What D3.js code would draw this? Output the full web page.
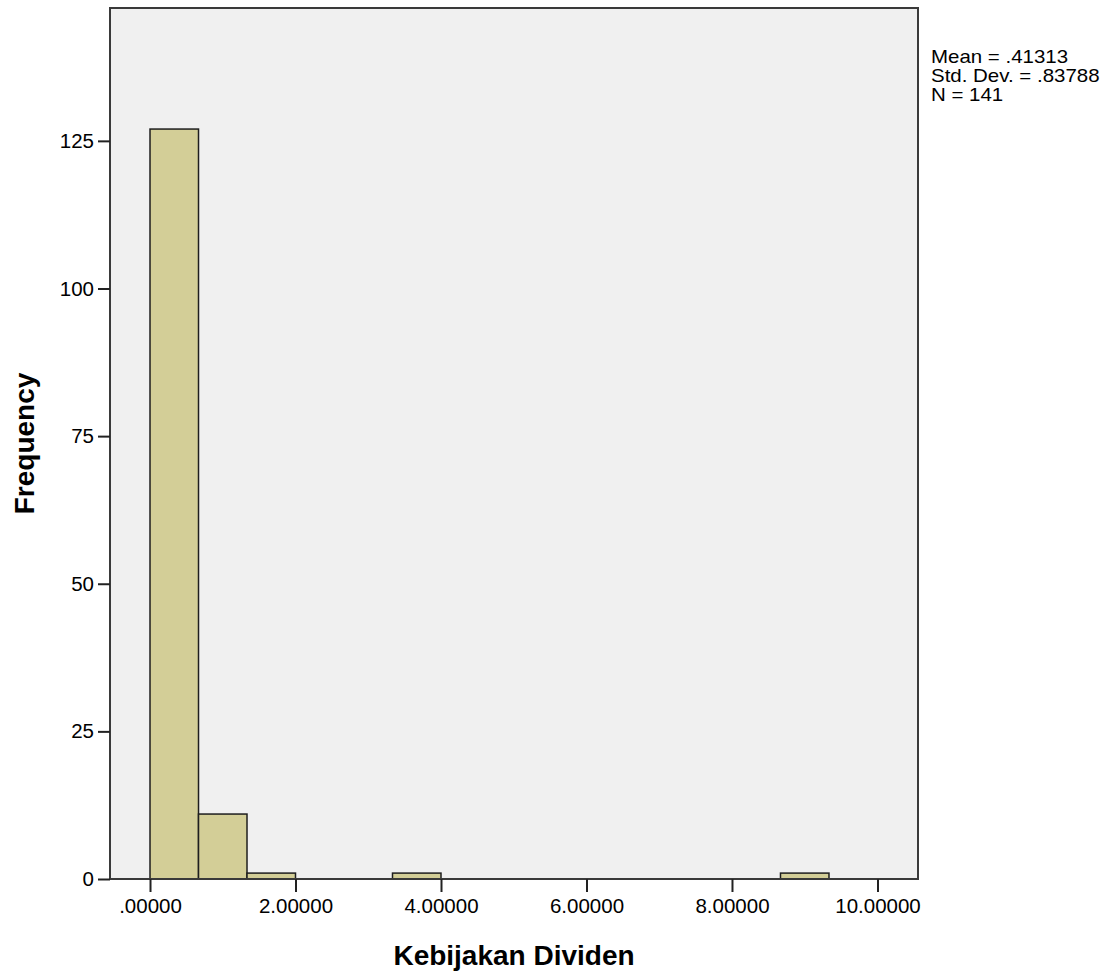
<!DOCTYPE html>
<html>
<head>
<meta charset="utf-8">
<script src="https://cdn.jsdelivr.net/npm/d3@7"></script>
<style>
  body { margin: 0; background: #fff; }
  text { font-family: "Liberation Sans", Arial, sans-serif; fill: #000; }
</style>
</head>
<body>
<div id="chart"></div>
<script>
// histogram bins (lower edge, upper edge) and counts
const binStart = [0, 0.6667, 1.3333, 3.3333, 8.6667];
const binEnd = [0.6667, 1.3333, 2.0, 4.0, 9.3333];
const counts = [127, 11, 1, 1, 1];
const xTicks = [0, 2, 4, 6, 8, 10];
const xTickLabels = [".00000", "2.00000", "4.00000", "6.00000", "8.00000", "10.00000"];
const yTicks = [0, 25, 50, 75, 100, 125];
const statLines = ["Mean = .41313", "Std. Dev. = .83788", "N = 141"];

window.onload = function() {
    var width = 1117;
    var height = 975;
    var left = 110, right = 918, top = 8, bottom = 879;

    const svg = d3.select('#chart')
        .append('svg')
        .attr('width', width)
        .attr('height', height);

    const x = d3.scaleLinear()
        .domain([-0.55, 10.557])
        .range([left, right]);
    const y = d3.scaleLinear()
        .domain([0, 147.5])
        .range([bottom, top]);

    // plot background
    svg.append("rect")
        .attr("x", left).attr("y", top)
        .attr("width", right - left).attr("height", bottom - top)
        .attr("fill", "#f0f0f0");

    const bars = binStart.map((s, i) => ({ x0: s, x1: binEnd[i], n: counts[i] }));

    svg.append("g")
        .selectAll("rect")
        .data(bars)
        .join("rect")
        .attr("x", d => x(d.x0))
        .attr("y", d => y(d.n))
        .attr("width", d => x(d.x1) - x(d.x0))
        .attr("height", d => y(0) - y(d.n))
        .attr("fill", "#d3ce97")
        .attr("stroke", "#1e1e1e")
        .attr("stroke-width", 1.5);

    // frame
    svg.append("rect")
        .attr("x", left).attr("y", top)
        .attr("width", right - left).attr("height", bottom - top)
        .attr("fill", "none")
        .attr("stroke", "#3a3a3a")
        .attr("stroke-width", 2);

    const yAxis = svg.append("g")
        .attr("transform", `translate(${left},0)`)
        .call(d3.axisLeft(y).tickValues(yTicks).tickSize(12).tickPadding(4));
    const xAxis = svg.append("g")
        .attr("transform", `translate(0,${bottom})`)
        .call(d3.axisBottom(x).tickValues(xTicks).tickSize(13).tickPadding(6)
            .tickFormat((d, i) => xTickLabels[i]));

    [yAxis, xAxis].forEach(function(g) {
        g.select(".domain").remove();
        g.selectAll(".tick line").attr("stroke", "#222").attr("stroke-width", 2);
        g.selectAll(".tick text")
            .attr("font-family", "Liberation Sans, Arial, sans-serif")
            .attr("font-size", "20.5px")
            .attr("fill", "#111");
    });

    svg.append("text")
        .attr("x", (left + right) / 2)
        .attr("y", 965)
        .attr("text-anchor", "middle")
        .style("font-size", "28px")
        .style("font-weight", "bold")
        .text("Kebijakan Dividen");

    svg.append("text")
        .attr("transform", "translate(34," + ((top + bottom) / 2) + ") rotate(-90)")
        .attr("text-anchor", "middle")
        .style("font-size", "28px")
        .style("font-weight", "bold")
        .text("Frequency");

    // stats box, slightly wide lettering like the reference
    svg.append("g")
        .attr("transform", "translate(931,0) scale(1.17,1)")
        .selectAll("text")
        .data(statLines)
        .join("text")
        .attr("x", 0)
        .attr("y", (d, i) => 63 + i * 19)
        .style("font-size", "17.5px")
        .text(d => d);
};
</script>
</body>
</html>
